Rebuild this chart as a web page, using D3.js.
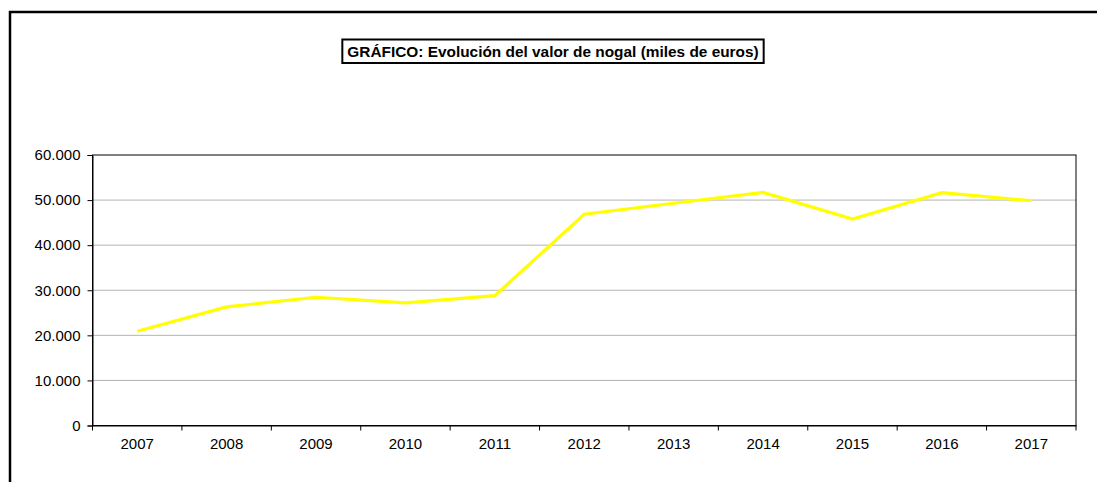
<!DOCTYPE html>
<html><head><meta charset="utf-8">
<script src="https://cdn.jsdelivr.net/npm/d3@7"></script>
<style>body{margin:0;background:#fff;}svg{display:block;font-family:"Liberation Sans",Arial,sans-serif;}</style>
</head><body><svg id="c" width="1097" height="482"></svg>
<script>
const years = ["2007","2008","2009","2010","2011","2012","2013","2014","2015","2016","2017"];
const values = [20900, 26300, 28450, 27200, 28800, 46850, 49300, 51700, 45800, 51650, 49850];
const yTicks = [0,10000,20000,30000,40000,50000,60000];
const title = "GRÁFICO: Evolución del valor de nogal (miles de euros)";

const svg = d3.select("#c");
svg.append("rect").attr("x",10).attr("y",12).attr("width",1100).attr("height",500)
  .attr("fill","#fff").attr("stroke","#000").attr("stroke-width",2.5);

const m = {l:92.5, t:155, r:1076, b:425.5};
const x = d3.scaleBand().domain(years).range([m.l,m.r]);
const y = d3.scaleLinear().domain([0,60000]).range([m.b,m.t]);
const fmt = v => d3.format(",")(v).replace(/,/g,".");

svg.append("g").selectAll("line").data(yTicks.slice(1,-1)).join("line")
  .attr("x1",m.l).attr("x2",m.r).attr("y1",d=>y(d)).attr("y2",d=>y(d))
  .attr("stroke","#b4b4b4").attr("stroke-width",1);

svg.append("rect").attr("x",m.l).attr("y",m.t).attr("width",m.r-m.l).attr("height",m.b-m.t)
  .attr("fill","none").attr("stroke","#000").attr("stroke-width",1);

const ya = svg.append("g").attr("transform",`translate(${m.l},0)`)
  .call(d3.axisLeft(y).tickValues(yTicks).tickFormat(fmt).tickSize(5).tickPadding(7));
ya.select(".domain").attr("stroke","#000");
ya.selectAll("text").attr("font-size",15).attr("fill","#000").attr("font-family","Liberation Sans, Arial, sans-serif");

const xa = svg.append("g").attr("transform",`translate(0,${m.b})`)
  .call(d3.axisBottom(x).tickSize(0).tickPadding(13));
xa.select(".domain").attr("stroke","#000");
xa.selectAll("text").attr("font-size",15).attr("fill","#000").attr("font-family","Liberation Sans, Arial, sans-serif");
const edges = years.map(d=>x(d)).concat([m.r]);
svg.append("g").selectAll("line").data(edges).join("line")
  .attr("x1",d=>d).attr("x2",d=>d).attr("y1",m.b).attr("y2",m.b+5).attr("stroke","#000");

const line = d3.line().x((d,i)=>x(years[i])+x.bandwidth()/2).y(d=>y(d));
svg.append("path").datum(values).attr("d",line).attr("fill","none")
  .attr("stroke","#ffff00").attr("stroke-width",3.2).attr("stroke-linejoin","miter");

const tg = svg.append("g");
const tt = tg.append("text").attr("x",553).attr("y",56.5).attr("text-anchor","middle")
  .attr("font-size",15.4).attr("font-weight","bold").attr("fill","#000").text(title);
const bb = tt.node().getBBox();
tg.insert("rect","text").attr("x",bb.x-5).attr("y",39.5).attr("width",bb.width+10).attr("height",23.5)
  .attr("fill","#fff").attr("stroke","#000").attr("stroke-width",2);
</script></body></html>
